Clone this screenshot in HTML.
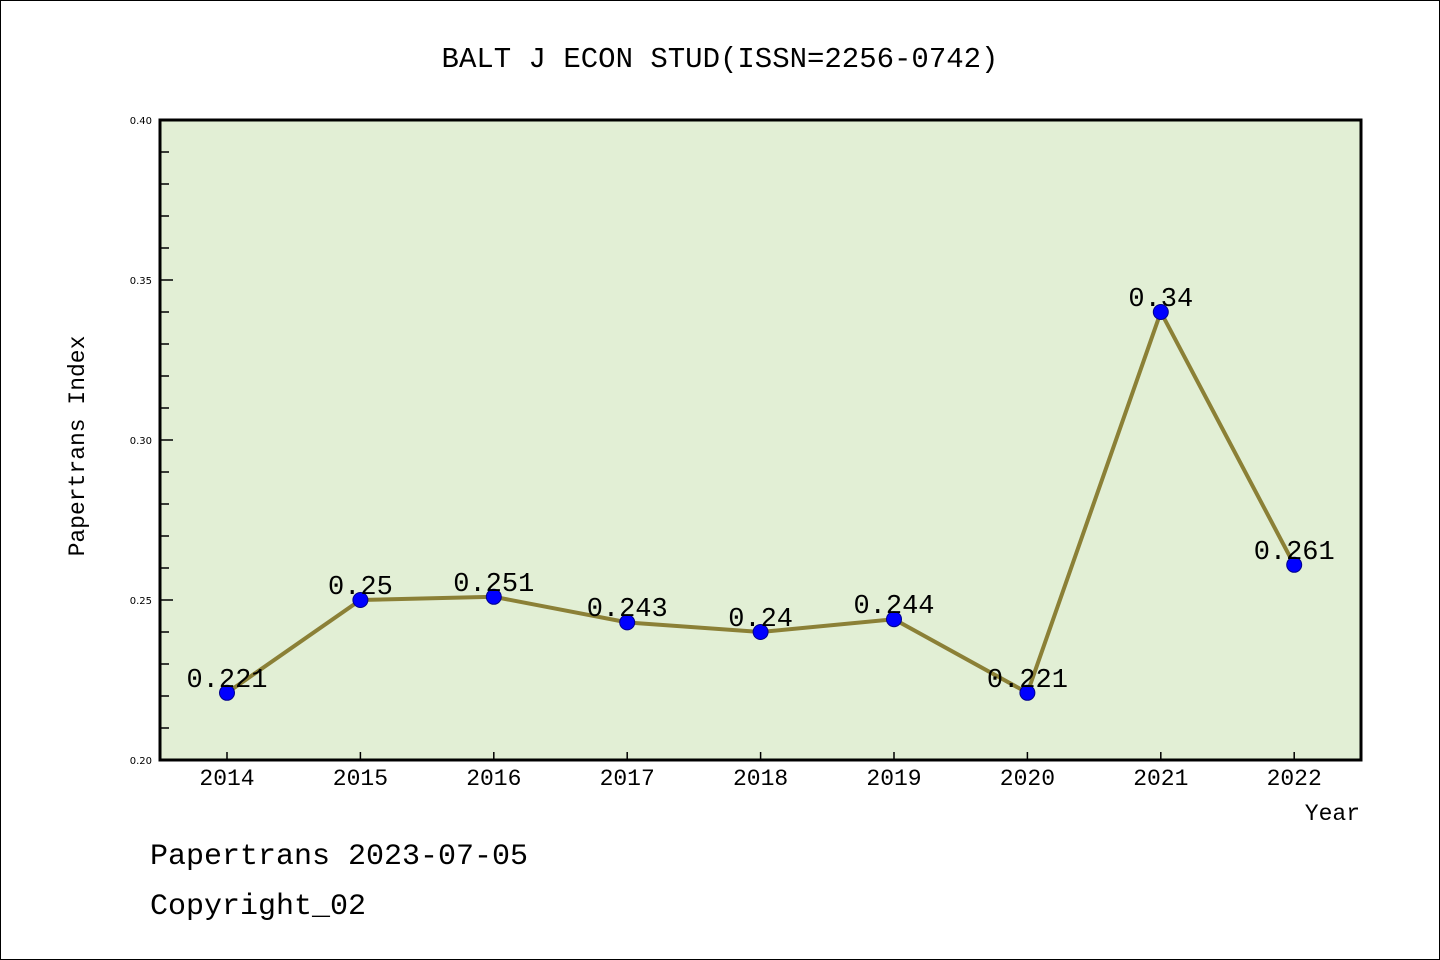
<!DOCTYPE html>
<html><head><meta charset="utf-8"><style>
html,body{margin:0;padding:0;background:#fff}
svg{display:block}
text{font-family:"Liberation Mono",monospace}
text.s{font-family:"DejaVu Sans",sans-serif}
</style></head><body>
<svg width="1440" height="960" xmlns="http://www.w3.org/2000/svg">
<rect x="0.5" y="0.5" width="1439" height="959" fill="#fff" stroke="#000" stroke-width="1"/>
<text x="720" y="67" font-size="29" text-anchor="middle">BALT J ECON STUD(ISSN=2256-0742)</text>
<rect x="160" y="120" width="1201" height="640" fill="#e2efd5"/>
<g stroke="#000" stroke-width="1.5">
<line x1="160" y1="152" x2="169" y2="152"/><line x1="160" y1="184" x2="169" y2="184"/><line x1="160" y1="216" x2="169" y2="216"/><line x1="160" y1="248" x2="169" y2="248"/>
<line x1="160" y1="280" x2="173" y2="280"/>
<line x1="160" y1="312" x2="169" y2="312"/><line x1="160" y1="344" x2="169" y2="344"/><line x1="160" y1="376" x2="169" y2="376"/><line x1="160" y1="408" x2="169" y2="408"/>
<line x1="160" y1="440" x2="173" y2="440"/>
<line x1="160" y1="472" x2="169" y2="472"/><line x1="160" y1="504" x2="169" y2="504"/><line x1="160" y1="536" x2="169" y2="536"/><line x1="160" y1="568" x2="169" y2="568"/>
<line x1="160" y1="600" x2="173" y2="600"/>
<line x1="160" y1="632" x2="169" y2="632"/><line x1="160" y1="664" x2="169" y2="664"/><line x1="160" y1="696" x2="169" y2="696"/><line x1="160" y1="728" x2="169" y2="728"/>
</g>
<g stroke="#000" stroke-width="1.5">
<line x1="227" y1="760" x2="227" y2="752"/><line x1="360.4" y1="760" x2="360.4" y2="752"/><line x1="493.8" y1="760" x2="493.8" y2="752"/><line x1="627.2" y1="760" x2="627.2" y2="752"/><line x1="760.6" y1="760" x2="760.6" y2="752"/><line x1="894" y1="760" x2="894" y2="752"/><line x1="1027.4" y1="760" x2="1027.4" y2="752"/><line x1="1160.8" y1="760" x2="1160.8" y2="752"/><line x1="1294.2" y1="760" x2="1294.2" y2="752"/>
</g>
<rect x="160" y="120" width="1201" height="640" fill="none" stroke="#000" stroke-width="3"/>
<g font-size="10" text-anchor="end">
<text class="s" x="152" y="124">0.40</text><text class="s" x="152" y="284">0.35</text><text class="s" x="152" y="444">0.30</text><text class="s" x="152" y="604">0.25</text><text class="s" x="152" y="764">0.20</text>
</g>
<g font-size="23" text-anchor="middle">
<text x="227" y="785">2014</text><text x="360.4" y="785">2015</text><text x="493.8" y="785">2016</text><text x="627.2" y="785">2017</text><text x="760.6" y="785">2018</text><text x="894" y="785">2019</text><text x="1027.4" y="785">2020</text><text x="1160.8" y="785">2021</text><text x="1294.2" y="785">2022</text>
</g>
<text x="1360" y="820" font-size="23" text-anchor="end">Year</text>
<text transform="translate(84,446) rotate(-90)" font-size="23" text-anchor="middle">Papertrans Index</text>
<polyline fill="none" stroke="#8b8036" stroke-width="4" points="227,692.8 360.4,600 493.8,596.8 627.2,622.4 760.6,632 894,619.2 1027.4,692.8 1160.8,312 1294.2,564.8"/>
<g fill="#0000ff" stroke="#00008b" stroke-width="1">
<circle cx="227" cy="692.8" r="7.5"/><circle cx="360.4" cy="600" r="7.5"/><circle cx="493.8" cy="596.8" r="7.5"/><circle cx="627.2" cy="622.4" r="7.5"/><circle cx="760.6" cy="632" r="7.5"/><circle cx="894" cy="619.2" r="7.5"/><circle cx="1027.4" cy="692.8" r="7.5"/><circle cx="1160.8" cy="312" r="7.5"/><circle cx="1294.2" cy="564.8" r="7.5"/>
</g>
<g font-size="27" text-anchor="middle">
<text x="227" y="687">0.221</text><text x="360.4" y="594">0.25</text><text x="493.8" y="591">0.251</text><text x="627.2" y="616">0.243</text><text x="760.6" y="626">0.24</text><text x="894" y="613">0.244</text><text x="1027.4" y="687">0.221</text><text x="1160.8" y="306">0.34</text><text x="1294.2" y="559">0.261</text>
</g>
<text x="150" y="864" font-size="30">Papertrans 2023-07-05</text>
<text x="150" y="914" font-size="30">Copyright_02</text>
</svg>
</body></html>
